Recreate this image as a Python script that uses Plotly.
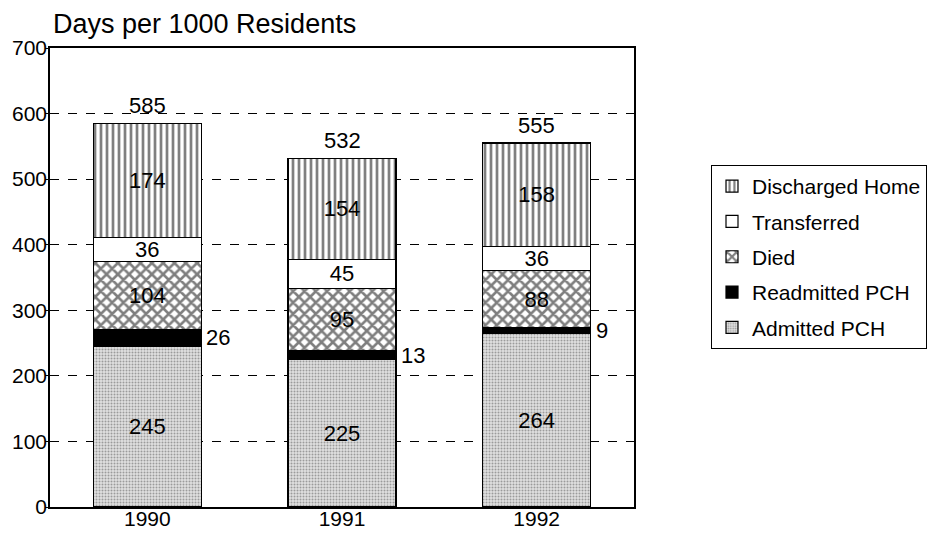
import plotly.graph_objects as go

years = ["1990", "1991", "1992"]
admitted = [245, 225, 264]
readmitted = [26, 13, 9]
died = [104, 95, 88]
transferred = [36, 45, 36]
discharged = [174, 154, 158]
totals = [585, 532, 555]

FONT = "Liberation Sans, Arial, sans-serif"
BW = 0.555
W, H = 920, 522   # page body has an 8px margin

fig = go.Figure()

def seg(name, vals, color, rank, pattern=None, show_text=True):
    fig.add_trace(go.Bar(
        x=years, y=vals, name=name, width=BW,
        marker=dict(color=color, line=dict(color="black", width=1.2),
                    pattern=pattern if pattern else {}),
        text=[str(v) for v in vals] if show_text else None,
        textposition="inside" if show_text else "none",
        insidetextanchor="middle",
        constraintext="none",
        textangle=0,
        textfont=dict(family=FONT, size=22, color="black"),
        legendgroup=name, legendrank=rank,
    ))

seg("Admitted PCH", admitted, "#d2d2d2", 5,
    dict(shape=".", fgcolor="#555555", bgcolor="#e0e0e0", size=3, solidity=0.35))
seg("Readmitted PCH", readmitted, "black", 4, None, show_text=False)
seg("Died", died, "white", 3,
    dict(shape="x", fgcolor="black", bgcolor="white", size=8, solidity=0.55))
seg("Transferred", transferred, "white", 2, None)
seg("Discharged Home", discharged, "white", 1,
    dict(shape="|", fgcolor="black", bgcolor="white", size=6, solidity=0.45))

for i, y in enumerate(years):
    fig.add_annotation(x=i, y=admitted[i] + readmitted[i] / 2, text=str(readmitted[i]),
                       xref="x", yref="y",
                       xanchor="left", yanchor="middle", xshift=57, showarrow=False,
                       font=dict(family=FONT, size=22, color="black"))
    fig.add_annotation(x=i, y=totals[i], text=str(totals[i]),
                       xref="x", yref="y",
                       xanchor="center", yanchor="bottom", yshift=3, showarrow=False,
                       font=dict(family=FONT, size=22, color="black"))

fig.update_layout(
    barmode="stack",
    width=W, height=H,
    margin=dict(l=42, r=294, t=40, b=23),
    paper_bgcolor="white", plot_bgcolor="white",
    font=dict(family=FONT, size=22, color="black"),
    title=dict(text="Days per 1000 Residents", x=45 / W, xanchor="left",
               y=1 - 16 / H, yanchor="middle",
               font=dict(family=FONT, size=27, color="black")),
    showlegend=True,
    legend=dict(xref="container", yref="container",
                x=703 / W, xanchor="left", y=1 - 157 / H, yanchor="top",
                traceorder="grouped", tracegroupgap=5,
                bordercolor="black", borderwidth=1, bgcolor="white",
                font=dict(family=FONT, size=21, color="black"),
                itemwidth=30),
    xaxis=dict(type="category", range=[-0.5, 2.5], showline=True, linecolor="black",
               linewidth=1.5, mirror=True, ticks="", automargin=False,
               ticklabelstandoff=-8,
               tickfont=dict(family=FONT, size=21)),
    yaxis=dict(range=[0, 700], dtick=100, showline=True, linecolor="black", linewidth=1.5,
               mirror=True, ticks="outside", ticklen=3, tickcolor="black", automargin=False,
               ticklabelstandoff=-6,
               showgrid=True, gridcolor="black", griddash="dash", gridwidth=1,
               tickfont=dict(family=FONT, size=21), zeroline=False),
)

fig.write_html("out.html")
